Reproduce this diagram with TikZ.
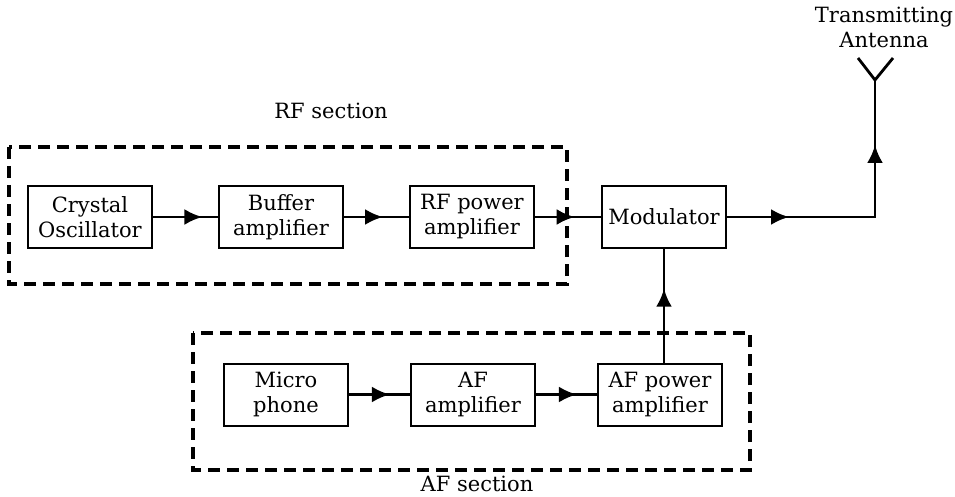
\documentclass[tikz,border=0pt]{standalone}
\usepackage{fontspec}
\setmainfont{DejaVu Serif}
\usetikzlibrary{arrows.meta,decorations.markings}

\tikzset{
  blk/.style={draw,line width=2pt,minimum width=124pt,minimum height=62pt,align=center,inner sep=2pt},
  sect/.style={draw,line width=3.5pt,dash pattern=on 12pt off 7pt},
  sig/.style={line width=2.8pt},
  arr/.style={postaction={decorate,decoration={markings,
      mark=at position #1 with {\arrow{Latex[length=18pt,width=16pt]}}}}}
}

\begin{document}
\begin{tikzpicture}[x=1pt,y=-1pt,font=\fontsize{21}{25}\selectfont]
  \useasboundingbox (0,0) rectangle (955,497);
  % dashed sections
  \draw[sect] (9,147) rectangle (567,284);
  \draw[sect] (193,333) rectangle (750,470);
  \node (rflab) at (331,111) {RF section};
  \node (aflab) at (477,484) {AF section};
  % RF chain
  \node[blk] (xtal) at (90,217) {Crystal\\Oscillator};
  \node[blk] (buf) at (281,217) {Buffer\\amplifier};
  \node[blk] (rfpow) at (472,217) {RF power\\amplifier};
  \node[blk] (mod) at (664,217) {Modulator};
  % AF chain
  \node[blk] (mic) at (286,394.5) {Micro\\phone};
  \node[blk] (afamp) at (473,394.5) {AF\\amplifier};
  \node[blk] (afpow) at (660,394.5) {AF power\\amplifier};
  % antenna
  \coordinate (ant) at (875,80);
  \draw[sig] (858,58) -- (ant) -- (893,58);
  \node[align=center,inner sep=0pt] (antlab) at (884,27) {Transmitting\\Antenna};
  % signal paths
  \foreach \a/\b/\p in {xtal/buf/0.76,buf/rfpow/0.6,rfpow/mod/0.6,mic/afamp/0.67,afamp/afpow/0.67} {
    \draw[sig,arr=\p] (\a.east) -- (\b.west);
  }
  \draw[sig,arr=0.65] (mod.south |- afpow.north) -- (mod.south);
  \draw[sig,arr=62pt,arr=220pt] (mod.east) -- (mod.east -| ant) -- (ant);
\end{tikzpicture}
\end{document}
